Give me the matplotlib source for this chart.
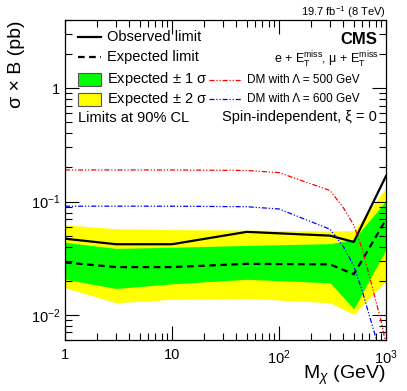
import numpy as np
import matplotlib.pyplot as plt
from matplotlib.patches import Rectangle
from matplotlib.lines import Line2D
from matplotlib.ticker import LogLocator, FixedLocator, NullFormatter

plt.rcParams['font.family'] = ['Liberation Sans', 'DejaVu Sans']
plt.rcParams['mathtext.fontset'] = 'custom'
plt.rcParams['mathtext.rm'] = 'Liberation Sans'
plt.rcParams['mathtext.it'] = 'Liberation Sans:italic'

# limits vs dark matter mass
mass = [1, 3, 10, 50, 300, 500, 1000]
observed = [0.047, 0.042, 0.042, 0.054, 0.050, 0.044, 0.168]
expected = [0.029, 0.0264, 0.0264, 0.0282, 0.0279, 0.0228, 0.0695]
sig1_lo = [0.0206, 0.0171, 0.0188, 0.0206, 0.0192, 0.0113, 0.0378]
sig1_hi = [0.0437, 0.0386, 0.0395, 0.0410, 0.0425, 0.0463, 0.102]
sig2_lo = [0.0173, 0.0128, 0.0137, 0.0140, 0.0128, 0.0101, 0.0199]
sig2_hi = [0.0625, 0.0575, 0.0565, 0.0560, 0.0550, 0.0554, 0.132]

# DM model predictions
dm_mass = [1, 10, 50, 100, 300, 400, 500, 600, 700, 800, 900, 1000]
dm500 = [0.19, 0.19, 0.188, 0.180, 0.125, 0.088, 0.062, 0.038, 0.022, 0.0135, 0.0088, 0.0055]
dm600 = [0.091, 0.091, 0.090, 0.086, 0.057, 0.040, 0.027, 0.0162, 0.0098, 0.0064, 0.0043, 0.003]

W, H = 407, 391
fig = plt.figure(figsize=(W / 100, H / 100), dpi=100)
ax = fig.add_axes([65 / W, 1 - 340 / H, 321 / W, 320 / H])

ax.fill_between(mass, sig2_lo, sig2_hi, color='#ffff00', lw=0)
ax.fill_between(mass, sig1_lo, sig1_hi, color='#00ff00', lw=0)
ax.plot(mass, expected, color='black', ls=(0, (3, 2)), lw=1.6)
ax.plot(mass, observed, color='black', lw=1.6)
dashdot = (0, (4, 1.5, 1, 1.5, 1, 1.5))
ax.plot(dm_mass, dm500, color='red', ls=dashdot, lw=0.9)
ax.plot(dm_mass, dm600, color='blue', ls=dashdot, lw=0.9)

ax.set_xscale('log')
ax.set_yscale('log')
ax.set_xlim(1, 1000)
ax.set_ylim(0.006, 4)

ax.xaxis.set_major_locator(FixedLocator([1, 10, 100, 1000]))
ax.set_xticklabels(['1', '10', r'$10^{2}$', r'$10^{3}$'])
ax.xaxis.set_minor_locator(LogLocator(base=10, subs=np.arange(2, 10)))
ax.xaxis.set_minor_formatter(NullFormatter())
ax.yaxis.set_major_locator(FixedLocator([0.01, 0.1, 1]))
ax.set_yticklabels([r'$10^{-2}$', r'$10^{-1}$', '1'])
ax.yaxis.set_minor_locator(LogLocator(base=10, subs=np.arange(2, 10)))
ax.yaxis.set_minor_formatter(NullFormatter())
ax.tick_params(which='both', direction='in', top=True, right=True, labelsize=10.5)
ax.tick_params(which='major', length=10, width=0.8)
ax.tick_params(which='minor', length=5, width=0.8)
ax.tick_params(axis='x', pad=6)
for s in ax.spines.values():
    s.set_linewidth(0.9)


def px(x, y):
    return x / W, 1 - y / H


# axis titles
fig.text(*px(386, 375), r'M$_{\chi}$ (GeV)', fontsize=14, ha='right', va='center')
fig.text(*px(17, 20), 'σ × B (pb)', fontsize=14, rotation=90, ha='center', va='top')

# left legend
fig.add_artist(Line2D([78 / W, 101 / W], [1 - 37 / H, 1 - 37 / H], color='black', lw=1.6))
fig.add_artist(Line2D([78 / W, 101 / W], [1 - 57 / H, 1 - 57 / H], color='black', lw=1.6, ls=(0, (3, 2))))
fig.add_artist(Rectangle(px(78, 86), 23 / W, 13 / H, facecolor='#00ff00', edgecolor='#555555', lw=0.8))
fig.add_artist(Rectangle(px(78, 106), 23 / W, 13 / H, facecolor='#ffff00', edgecolor='#555555', lw=0.8))
for y, t in [(37, 'Observed limit'), (57, 'Expected limit'),
             (79, r'Expected $\pm$ 1 σ'), (99, r'Expected $\pm$ 2 σ')]:
    fig.text(*px(107, y), t, fontsize=10.5, va='center', ha='left')
fig.text(*px(78, 118), 'Limits at 90% CL', fontsize=10.5, va='center', ha='left')

# right legend
fig.add_artist(Line2D([209 / W, 242 / W], [1 - 80 / H, 1 - 80 / H], color='red', lw=0.9, ls=dashdot))
fig.add_artist(Line2D([209 / W, 242 / W], [1 - 99 / H, 1 - 99 / H], color='blue', lw=0.9, ls=dashdot))
fig.text(*px(247, 80), 'DM with Λ = 500 GeV', fontsize=8.5, va='center', ha='left')
fig.text(*px(247, 99), 'DM with Λ = 600 GeV', fontsize=8.5, va='center', ha='left')
fig.text(*px(377, 117), 'Spin-independent, ξ = 0', fontsize=10.5, va='center', ha='right')

fig.text(*px(377, 39), 'CMS', fontsize=12, fontweight='bold', va='center', ha='right')
fig.text(*px(379, 60), r'e + E$_{\rm T}^{\rm miss}$, μ + E$_{\rm T}^{\rm miss}$',
         fontsize=9, va='center', ha='right')
fig.text(*px(386, 12), r'19.7 fb$^{-1}$ (8 TeV)', fontsize=8, va='center', ha='right')

fig.savefig('out.png', dpi=100)
